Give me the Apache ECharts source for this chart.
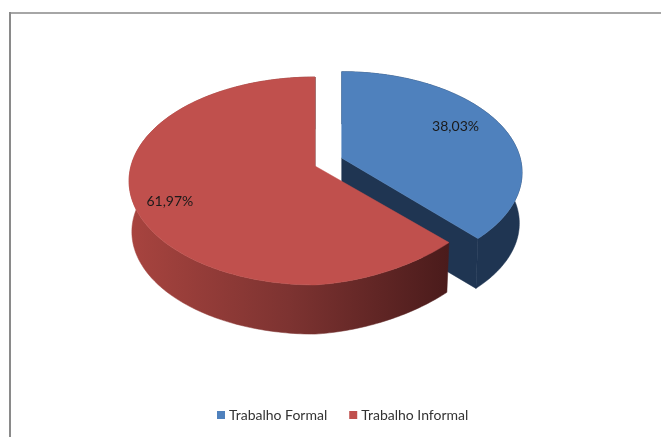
<!DOCTYPE html>
<html>
<head>
<meta charset="utf-8">
<script src="https://cdn.jsdelivr.net/npm/echarts@6/dist/echarts.min.js"></script>
<style>
html,body{margin:0;padding:0;background:#fff;}
#main{width:661px;height:437px;}
</style>
</head>
<body>
<div id="main"></div>
<script>
var categories = ['Trabalho Formal', 'Trabalho Informal'];
var values = [38.03, 61.97];
var total = values[0] + values[1];

// vista da pizza 3D
var RX = 184, RY = 101.8, PERSP = 0.144, DEPTH = 51, BOTTOM = 0.985;

function project(apex, scale, deg, r, skew) {
	var t = deg * Math.PI / 180;
	var u = Math.sin(t) * r, v = -Math.cos(t) * r;
	var w = 1 - PERSP * v;
	var s = skew * Math.max(u, 0) * Math.max(v, 0);
	return [apex[0] + scale * RX * u / w - s, apex[1] + scale * RY * v / w - s];
}
function arc(apex, scale, a1, a2, skew) {
	var pts = [];
	for (var a = a1; a < a2; a += 1) {
		pts.push(project(apex, scale, a, 1, skew));
	}
	pts.push(project(apex, scale, a2, 1, skew));
	return pts;
}
function poly(points, fill) {
	return { type: 'polygon', shape: { points: points }, style: { fill: fill, stroke: fill, lineWidth: 0.5 } };
}

function sliceItem(idx, apex, scale, skew, top, side, labelR, labelShift) {
	return function (params, api) {
		var start = 0;
		for (var i = 0; i < idx; i++) start += values[i] / total * 360;
		var end = start + api.value(0) / total * 360;
		var topArc = arc(apex, scale, start, end, skew);
		var apexB = [apex[0], apex[1] + DEPTH];
		var botArc = arc(apexB, scale * BOTTOM, start, end, skew);
		var cornerT = topArc[topArc.length - 1], cornerB = botArc[botArc.length - 1];
		var mid = (start + end) / 2 + labelShift;
		var lp = project(apex, scale, mid, labelR, 0);
		return {
			type: 'group',
			children: [
				poly(topArc.concat(botArc.slice().reverse()), side),
				poly([apex, cornerT, cornerB, apexB], idx == 0 ? side : '#4a1b1b'),
				poly([apex].concat(topArc), top),
				{
					type: 'text',
					x: lp[0], y: lp[1],
					style: {
						text: api.value(0).toFixed(2).replace('.', ',') + '%',
						fill: '#1a1a1a', font: '14px Lato',
						align: 'center', verticalAlign: 'middle'
					}
				}
			]
		};
	};
}

var redSide = {
	type: 'linear', x: 0, y: 0, x2: 1, y2: 0,
	colorStops: [
		{ offset: 0, color: '#a8443f' },
		{ offset: 0.5, color: '#7d3331' },
		{ offset: 1, color: '#4a1b1b' }
	]
};

var myChart = echarts.init(document.getElementById('main'));
myChart.setOption({
	animation: false,
	legend: {
		top: 408,
		left: 217,
		padding: 0,
		data: categories,
		icon: 'rect',
		itemWidth: 8,
		itemHeight: 8,
		itemGap: 22,
		textStyle: { fontSize: 14, color: '#333', fontFamily: 'Lato', padding: [0, 0, 0, -1] }
	},
	graphic: [
		{ type: 'rect', shape: { x: 9, y: 12, width: 652, height: 2 }, style: { fill: '#a6a6a6' } },
		{ type: 'rect', shape: { x: 9, y: 12, width: 2, height: 425 }, style: { fill: '#8a8a8a' } }
	],
	series: [
		{
			type: 'custom', name: categories[0], coordinateSystem: 'none',
			itemStyle: { color: '#4f81bd' },
			data: [[values[0]]],
			renderItem: sliceItem(0, [341.7, 158], 0.97, 0, '#4f81bd', '#1f3552', 0.745, -4.7)
		},
		{
			type: 'custom', name: categories[1], coordinateSystem: 'none',
			itemStyle: { color: '#c0504d' },
			data: [[values[1]]],
			renderItem: sliceItem(1, [315, 166], 1, 13, '#c0504d', redSide, 0.82, -2)
		}
	]
});
</script>
</body>
</html>
